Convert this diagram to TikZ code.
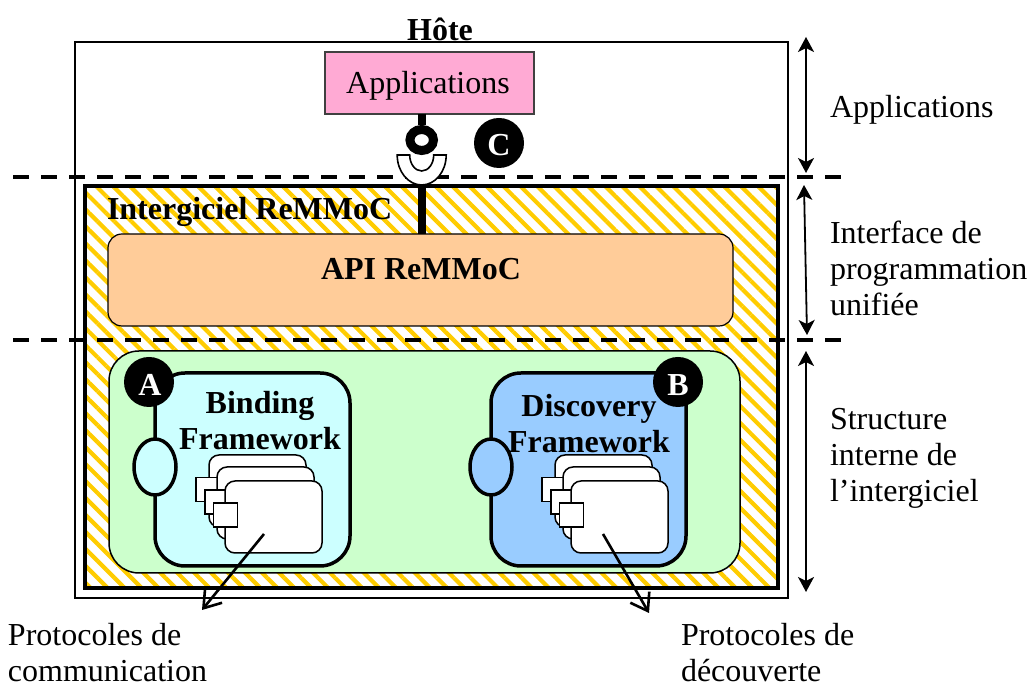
\documentclass[tikz,border=0pt]{standalone}
\usepackage{fontspec}
\setmainfont{Liberation Serif}
\usetikzlibrary{shapes.geometric, arrows.meta, calc, positioning, patterns.meta}
\definecolor{appspink}{HTML}{FFAAD4}
\definecolor{hatchyellow}{HTML}{FFCC00}
\definecolor{apiorange}{HTML}{FFCC99}
\definecolor{innergreen}{HTML}{CCFFCC}
\definecolor{bindingcyan}{HTML}{CCFFFF}
\definecolor{discoveryblue}{HTML}{99CCFF}
\tikzstyle{plaintext} = [inner sep=0pt, outer sep=0pt, align=left, font=\fontsize{16}{18}\selectfont]
\tikzstyle{boldtext} = [plaintext, align=center, font=\fontsize{16}{18}\selectfont\bfseries]
\tikzstyle{hostbox} = [rectangle, draw=black, line width=0.9pt, inner sep=0pt, outer sep=0pt]
\tikzstyle{appsbox} = [rectangle, draw=black!75, line width=0.7pt, fill=appspink, inner sep=0pt, outer sep=0pt]
\tikzstyle{hatchbox} = [rectangle, draw=black, line width=2.2pt, inner sep=0pt, outer sep=0pt, pattern={Lines[angle=-45, distance=6pt, line width=2.1pt]}, pattern color=hatchyellow]
\tikzstyle{apibox} = [rectangle, draw=black, line width=0.6pt, rounded corners=7pt, fill=apiorange, inner sep=0pt, outer sep=0pt]
\tikzstyle{greenbox} = [rectangle, draw=black, line width=0.75pt, rounded corners=15pt, fill=innergreen, inner sep=0pt, outer sep=0pt]
\tikzstyle{framebox} = [rectangle, draw=black, line width=1.75pt, rounded corners=15pt, minimum width=97.5pt, minimum height=96.5pt, inner sep=0pt, outer sep=0pt]
\tikzstyle{portoval} = [ellipse, draw=black, line width=1.75pt, minimum width=21pt, minimum height=28pt, inner sep=0pt, outer sep=0pt]
\tikzstyle{badge} = [circle, fill=black, minimum size=25pt, inner sep=0pt, outer sep=0pt]
\tikzstyle{badgetext} = [boldtext, text=white]
\tikzstyle{component} = [rectangle, draw=black, line width=0.75pt, rounded corners=5pt, fill=white, minimum width=48.5pt, minimum height=36pt, inner sep=0pt, outer sep=0pt]
\tikzstyle{smallsquare} = [rectangle, draw=black, line width=0.75pt, fill=white, minimum size=12pt, inner sep=0pt, outer sep=0pt]
\tikzstyle{levelline} = [line width=2pt, dash pattern=on 8pt off 6pt]
\tikzstyle{stem} = [line width=4pt]
\tikzstyle{span} = [line width=0.9pt, {Stealth[length=7.5pt,width=8pt,inset=2pt]}-{Stealth[length=7.5pt,width=8pt,inset=2pt]}]
\tikzstyle{arrow} = [line width=1.3pt, -{Straight Barb[length=8pt,width=11pt]}]
\begin{document}
\begin{tikzpicture}[x=0.5pt, y=0.5pt]
	\useasboundingbox (0,0) rectangle (1028,684);

	\node (HostBox) [hostbox, minimum width=356.5pt, minimum height=278pt] at (431.5,364) {};
	\node (HostLabel) [boldtext] at (440,655) {Hôte};
	\node (Apps) [appsbox, minimum width=104.5pt, minimum height=31pt] at (429.5,601) {};
	\node (AppsLabel) [plaintext] at (428,598) {Applications};

	\node (Middleware) [hatchbox, minimum width=346.5pt, minimum height=201pt] at (431.5,297) {};
	\node (MiddlewareLabel) [boldtext, anchor=west] at (107,472) {Intergiciel ReMMoC};
	\node (Api) [apibox, minimum width=312.5pt, minimum height=46pt] at (420.5,404) {};
	\node (ApiLabel) [boldtext] at (421,415) {API ReMMoC};

	\coordinate (LevelOneL) at (13,506.5);
	\coordinate (LevelOneR) at (842,506.5);
	\coordinate (LevelTwoL) at (13,344);
	\coordinate (LevelTwoR) at (842,344);
	\draw [levelline] (LevelOneL) -- (LevelOneR);
	\draw [levelline] (LevelTwoL) -- (LevelTwoR);

	% provided and required interface
	\node (Ball) [ellipse, draw=black, line width=4.5pt, fill=white, minimum width=11.75pt, minimum height=10.5pt, inner sep=0pt] at (421.7,544) {};
	\coordinate (SocketBottom) at (421.7,499);
	\draw [stem] (Apps.south -| Ball) -- (Ball);
	\draw [stem] (SocketBottom) -- (Api.north -| SocketBottom);
	\draw [line width=0.8pt, fill=white] (397.2,529) arc[start angle=180, end angle=360, x radius=12.25pt, y radius=15pt] -- (433.7,529) arc[start angle=0, end angle=-180, x radius=6pt, y radius=8pt] -- cycle;
	\node (BadgeC) [badge] at (499,541) {};
	\node (BadgeCText) [badgetext] at (499,539) {C};

	\node (Inner) [greenbox, minimum width=315.5pt, minimum height=111pt] at (424.5,222) {};

	\node (Binding) [framebox, fill=bindingcyan] at (252.5,214.5) {};
	\node (PortA) [portoval, fill=bindingcyan] at (155,217) {};
	\node (BadgeA) [badge] at (149,302) {};
	\node (BadgeAText) [badgetext] at (150,299) {A};
	\node (BindingLabel) [boldtext] at (260,263) {Binding\\Framework};
	\node (CompA1) [component] at (257.5,193) {};
	\node (SquareA1) [smallsquare] at (208,194.5) {};
	\node (CompA2) [component] at (265.5,181) {};
	\node (SquareA2) [smallsquare] at (217,182) {};
	\node (CompA3) [component] at (273.5,167) {};
	\node (SquareA3) [smallsquare] at (225.5,169) {};

	\node (Discovery) [framebox, fill=discoveryblue] at (588.5,214.5) {};
	\node (PortB) [portoval, fill=discoveryblue] at (491,217) {};
	\node (BadgeB) [badge] at (678,302) {};
	\node (BadgeBText) [badgetext] at (678,299) {B};
	\node (DiscoveryLabel) [boldtext] at (589,260) {Discovery\\Framework};
	\node (CompB1) [component] at (603.5,193) {};
	\node (SquareB1) [smallsquare] at (554,194.5) {};
	\node (CompB2) [component] at (611.5,181) {};
	\node (SquareB2) [smallsquare] at (563,182) {};
	\node (CompB3) [component] at (619.5,167) {};
	\node (SquareB3) [smallsquare] at (571.5,169) {};

	\node (ProtoComm) [plaintext, anchor=west] at (8,31) {Protocoles de\\communication};
	\node (ProtoDisc) [plaintext, anchor=west] at (681,31) {Protocoles de\\découverte};
	\coordinate (CommStart) at (264,150);
	\coordinate (CommEnd) at (202,74);
	\coordinate (DiscStart) at (603,150);
	\coordinate (DiscEnd) at (649,71);
	\draw [arrow] (CommStart) -- (CommEnd);
	\draw [arrow] (DiscStart) -- (DiscEnd);

	\node (LevelApps) [plaintext, anchor=west] at (830,574) {Applications};
	\node (LevelApi) [plaintext, anchor=west] at (830,416) {Interface de\\programmation\\unifiée};
	\node (LevelInner) [plaintext, anchor=west] at (830,226) {Structure\\interne de\\l’intergiciel};

	\coordinate (SpanA) at (806,647);
	\coordinate (SpanB) at (806,511);
	\coordinate (SpanC) at (804,499);
	\coordinate (SpanD) at (807,349);
	\coordinate (SpanE) at (806,333);
	\coordinate (SpanF) at (806,92);
	\draw [span] (SpanA) -- (SpanB);
	\draw [span] (SpanC) -- (SpanD);
	\draw [span] (SpanE) -- (SpanF);
\end{tikzpicture}
\end{document}
